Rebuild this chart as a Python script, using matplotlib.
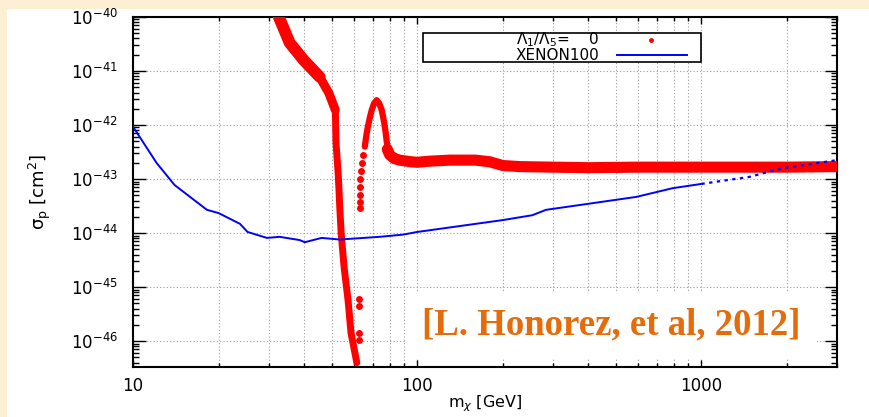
import numpy as np
import matplotlib
matplotlib.use('Agg')
import matplotlib.pyplot as plt
from matplotlib import ticker
from matplotlib.patches import Rectangle

plt.rcParams['font.family'] = ['DejaVu Sans']
plt.rcParams['mathtext.fontset'] = 'dejavusans'
plt.rcParams['axes.unicode_minus'] = False

# values: m_chi in GeV, sigma_p given as log10(sigma / cm^2)
# red scan, branch falling towards the resonance
fall_m = [32.6, 35.6, 39.9, 45.4, 48.9, 51.5, 51.8, 52.8, 53.4, 54.0, 55.3, 57.1, 58.5, 61.3]
fall_logsig = [-40.0, -40.48, -40.8, -41.11, -41.41, -41.72, -42.33, -42.96, -43.52,
               -44.0, -44.63, -45.24, -45.85, -46.4]

# sparse points on the rising side
rise_m = [62.5, 62.5, 62.3, 62.3, 62.7, 62.9, 63.1, 63.1, 63.1, 63.5, 63.8, 64.5]
rise_logsig = [-45.98, -45.85, -45.35, -45.22, -43.54, -43.43, -43.3, -43.15, -43.0,
               -42.85, -42.7, -42.55]

# resonance peak
peak_m = [65.4, 66.2, 67.0, 68.0, 69.2, 70.5, 72.0, 73.5, 75.0, 76.5, 77.5, 78.5, 79.5]
peak_logsig = [-42.4, -42.2, -42.04, -41.88, -41.72, -41.6, -41.54, -41.6, -41.72,
               -41.95, -42.15, -42.4, -42.55]

# plateau at high mass
plat_m = [78.5, 80, 83, 86.7, 95, 100, 110, 130, 160, 180, 200, 230, 300, 400, 600,
          1000, 2000, 3000]
plat_logsig = [-42.45, -42.55, -42.62, -42.65, -42.68, -42.69, -42.67, -42.65, -42.65,
               -42.68, -42.75, -42.77, -42.78, -42.79, -42.78, -42.78, -42.78, -42.77]

# XENON100 limit (solid part) and its extrapolation (dotted)
xe_m = [10, 12.1, 14.0, 18.2, 20, 23.8, 25.3, 29.6, 32.8, 38.6, 40.2, 46.1, 53.4, 73.7,
        88.9, 100, 200, 254, 284, 398, 591, 791, 1000]
xe_logsig = [-42.03, -42.70, -43.11, -43.57, -43.63, -43.83, -43.98, -44.09, -44.07,
             -44.13, -44.17, -44.09, -44.12, -44.07, -44.03, -43.98, -43.76, -43.67,
             -43.57, -43.46, -43.33, -43.17, -43.09]
xe_ext_m = [1000, 1476, 1928, 3000]
xe_ext_logsig = [-43.09, -42.96, -42.8, -42.65]

x_major = [10, 100, 1000]
y_major_exp = [-46, -45, -44, -43, -42, -41, -40]
legend_labels = [r'$\Lambda_1/\Lambda_5$=    0', 'XENON100']
citation = '[L. Honorez, et al, 2012]'

RED = '#FF0000'
BLUE = '#0000FF'
CREAM = '#FCEFD4'


def sig(v):
    return 10.0 ** np.asarray(v, dtype=float)


fig = plt.figure(figsize=(8.69, 4.17), dpi=100, facecolor=CREAM)
fig.add_artist(Rectangle((7 / 869, 0), 1, 408 / 417, transform=fig.transFigure,
                         facecolor='white', edgecolor='none', zorder=-10))
ax = fig.add_axes([133 / 869, 50 / 417, 704 / 869, 350 / 417])
ax.set_xscale('log')
ax.set_yscale('log')
ax.set_xlim(10, 3000)
ax.set_ylim(10 ** -46.48, 1e-40)

line_kw = dict(color=RED, solid_capstyle='round', solid_joinstyle='round', zorder=3)
# red scan
ax.plot(fall_m, sig(fall_logsig), lw=5, **line_kw)
ax.plot(fall_m[:6], sig(fall_logsig[:6]), lw=6.5, **line_kw)
ax.plot(fall_m[:4], sig(fall_logsig[:4]), lw=8.5, **line_kw)
ax.plot(rise_m, sig(rise_logsig), 'o', color=RED, ms=5, mec='none', zorder=3)
ax.plot(peak_m, sig(peak_logsig), lw=4.5, **line_kw)
ax.plot(plat_m, sig(plat_logsig), lw=8, **line_kw)

# XENON100
ax.plot(xe_m, sig(xe_logsig), color=BLUE, lw=1.4, zorder=4)
ax.plot(xe_ext_m, sig(xe_ext_logsig), color=BLUE, lw=1.6, ls=(0, (1.5, 2)), zorder=4)

# axes styling, gnuplot look
ax.xaxis.set_major_locator(ticker.FixedLocator(x_major))
ax.xaxis.set_minor_locator(ticker.LogLocator(base=10, subs=np.arange(2, 10), numticks=50))
ax.xaxis.set_major_formatter(ticker.FuncFormatter(lambda v, p: f'{v:g}'))
ax.xaxis.set_minor_formatter(ticker.NullFormatter())
ax.yaxis.set_major_locator(ticker.FixedLocator(sig(y_major_exp)))
ax.yaxis.set_major_formatter(ticker.LogFormatterSciNotation())
ax.yaxis.set_minor_locator(ticker.LogLocator(base=10, subs=np.arange(2, 10), numticks=100))
ax.yaxis.set_minor_formatter(ticker.NullFormatter())

ax.tick_params(which='both', direction='in', top=True, right=True, width=1,
               labelsize=12, colors='black')
ax.tick_params(axis='x', which='major', length=5, pad=7.5)
ax.tick_params(axis='x', which='minor', length=3)
ax.tick_params(axis='y', which='major', length=9, pad=11)
ax.tick_params(axis='y', which='minor', length=4.5)
for s in ax.spines.values():
    s.set_linewidth(1.5)

ax.set_axisbelow(True)
grid_style = dict(color='#9a9a9a', lw=0.8, ls=(0, (1, 2)))
ax.grid(True, which='major', axis='y', **grid_style)
ax.grid(True, which='both', axis='x', **grid_style)

ax.set_xlabel('m$_{\\chi}$ [GeV]', fontsize=11.5, va='top')
ax.set_ylabel('σ$_{\\rm p}$ [cm$^{2}$]', fontsize=13)
ax.xaxis.set_label_coords(0.5, -0.074)
ax.yaxis.set_label_coords(-0.114, 0.5)

# legend box in gnuplot style: text on the left, sample on the right
lx, ly, lw_, lh = 0.412, 0.871, 0.395, 0.083
ax.add_patch(Rectangle((lx, ly), lw_, lh, transform=ax.transAxes, facecolor='white',
                       edgecolor='black', lw=1.2, zorder=5))
rows = [0.935, 0.891]
for label, yy in zip(legend_labels, rows):
    ax.text(lx + 0.251, yy, label, transform=ax.transAxes, ha='right', va='center',
            fontsize=11, zorder=6)
ax.plot([lx + 0.324], [rows[0]], 'o', color=RED, ms=3.5, mec='none',
        transform=ax.transAxes, clip_on=False, zorder=6)
ax.plot([lx + 0.2755, lx + 0.375], [rows[1], rows[1]], color=BLUE, lw=1.4,
        transform=ax.transAxes, clip_on=False, zorder=6)

ax.text(0.41, 0.121, citation, transform=ax.transAxes, fontsize=26.5,
        family='Liberation Serif', fontweight='bold', color='#E46C0A', ha='left',
        va='center', zorder=2.5,
        bbox=dict(boxstyle='square,pad=0.45', facecolor='white', edgecolor='none'))

fig.savefig('out.png', dpi=100, facecolor=fig.get_facecolor())
